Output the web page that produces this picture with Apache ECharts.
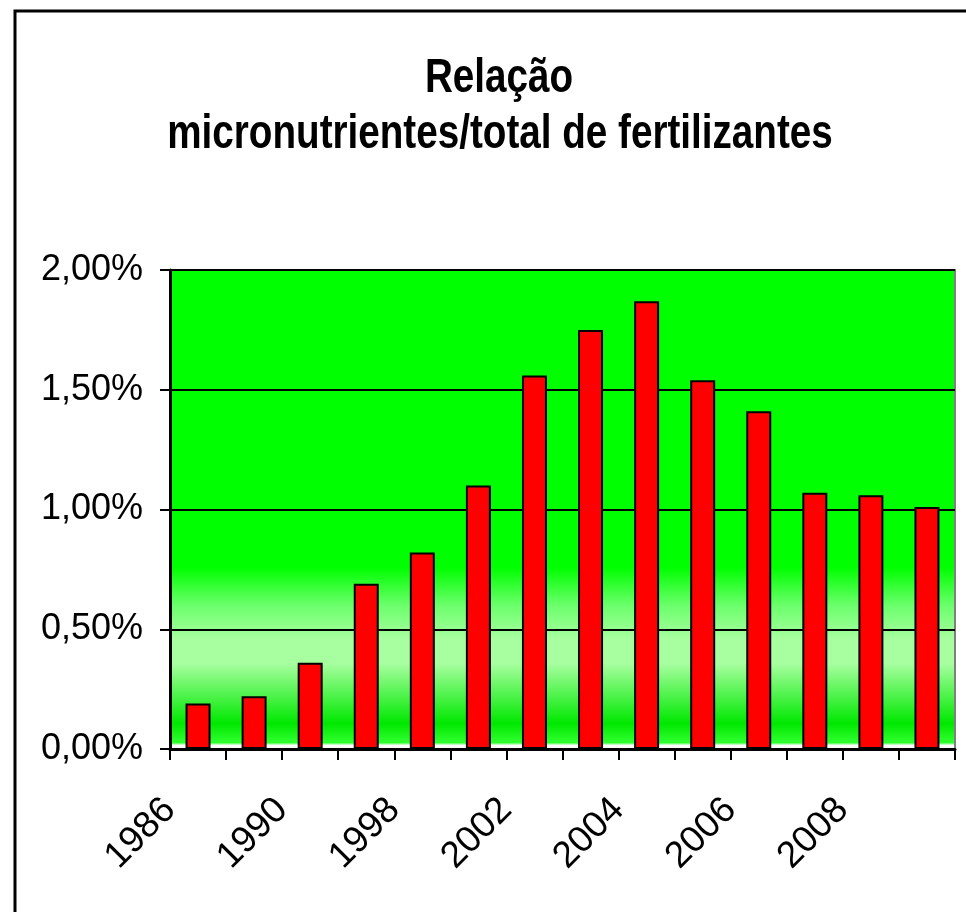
<!DOCTYPE html>
<html>
<head>
<meta charset="utf-8">
<title>Relação micronutrientes/total de fertilizantes</title>
<script src="https://cdn.jsdelivr.net/npm/echarts@6/dist/echarts.min.js"></script>
<style>
  html, body { margin: 0; padding: 0; background: #fff; }
  #chart { width: 966px; height: 912px; }
</style>
</head>
<body>
<div id="chart"></div>
<script>
// anos (só um sim, um não aparece no eixo)
const years = ['1986', '1988', '1990', '1994', '1998', '2000', '2002', '2003', '2004', '2005', '2006', '2007', '2008', '2009'];
// relação micronutrientes / total, em %
const ratio = [0.19, 0.22, 0.36, 0.69, 0.82, 1.10, 1.56, 1.75, 1.87, 1.54, 1.41, 1.07, 1.06, 1.01];
const yTicks = { min: 0, max: 2, step: 0.5 };
const titleLines = ['Relação', 'micronutrientes/total de fertilizantes'];

const chart = echarts.init(document.getElementById('chart'));

// fonte do título é estreita no original -> texto escalado na horizontal
const titleFont = 'bold 48px "Liberation Sans", Arial, sans-serif';

const option = {
  animation: false,
  backgroundColor: '#ffffff',
  graphic: [
    { // moldura do gráfico (só topo e esquerda ficam visíveis)
      type: 'rect',
      shape: { x: 15, y: 11, width: 1000, height: 1000 },
      style: { fill: 'none', stroke: '#000', lineWidth: 3 },
      silent: true
    },
    {
      type: 'text',
      x: 499, y: 79, scaleX: 0.805,
      style: { text: titleLines[0], font: titleFont, fill: '#000', textAlign: 'center', textVerticalAlign: 'middle' }
    },
    {
      type: 'text',
      x: 500, y: 135, scaleX: 0.805,
      style: { text: titleLines[1], font: titleFont, fill: '#000', textAlign: 'center', textVerticalAlign: 'middle' }
    }
  ],
  grid: {
    left: 170,
    right: 11,
    top: 270,
    bottom: 163,
    show: true,
    borderColor: '#808080',
    borderWidth: 2,
    backgroundColor: new echarts.graphic.LinearGradient(0, 0, 0, 1, [
      { offset: 0, color: '#00ff00' },
      { offset: 0.62, color: '#00ff00' },
      { offset: 0.70, color: '#6cff6c' },
      { offset: 0.77, color: '#a8ffa0' },
      { offset: 0.82, color: '#a8ffa0' },
      { offset: 0.945, color: '#00e800' },
      { offset: 0.985, color: '#30ff30' },
      { offset: 0.99, color: '#ffffff' },
      { offset: 1, color: '#ffffff' }
    ])
  },
  xAxis: {
    type: 'category',
    data: years,
    boundaryGap: true,
    axisLine: { lineStyle: { color: '#000', width: 3 } },
    axisTick: { show: true, interval: 0, length: 11, lineStyle: { color: '#000', width: 2 } },
    axisLabel: {
      interval: 1,
      rotate: 45,
      margin: 27,
      padding: [0, 40, 0, 0],
      fontSize: 37,
      fontFamily: '"Liberation Sans", Arial, sans-serif',
      color: '#000'
    }
  },
  yAxis: {
    type: 'value',
    min: yTicks.min,
    max: yTicks.max,
    interval: yTicks.step,
    axisLine: { show: true, lineStyle: { color: '#000', width: 3 } },
    axisTick: { show: true, length: 10, lineStyle: { color: '#000', width: 2 } },
    splitLine: { lineStyle: { color: '#000', width: 2 } },
    axisLabel: {
      margin: 27,
      fontSize: 36,
      fontFamily: '"Liberation Sans", Arial, sans-serif',
      color: '#000',
      formatter: v => v.toFixed(2).replace('.', ',') + '%'
    }
  },
  series: [
    {
      type: 'bar',
      data: ratio,
      barWidth: 25,
      itemStyle: { color: '#ff0000', borderColor: '#000', borderWidth: 2 }
    }
  ]
};

chart.setOption(option);
</script>
</body>
</html>
